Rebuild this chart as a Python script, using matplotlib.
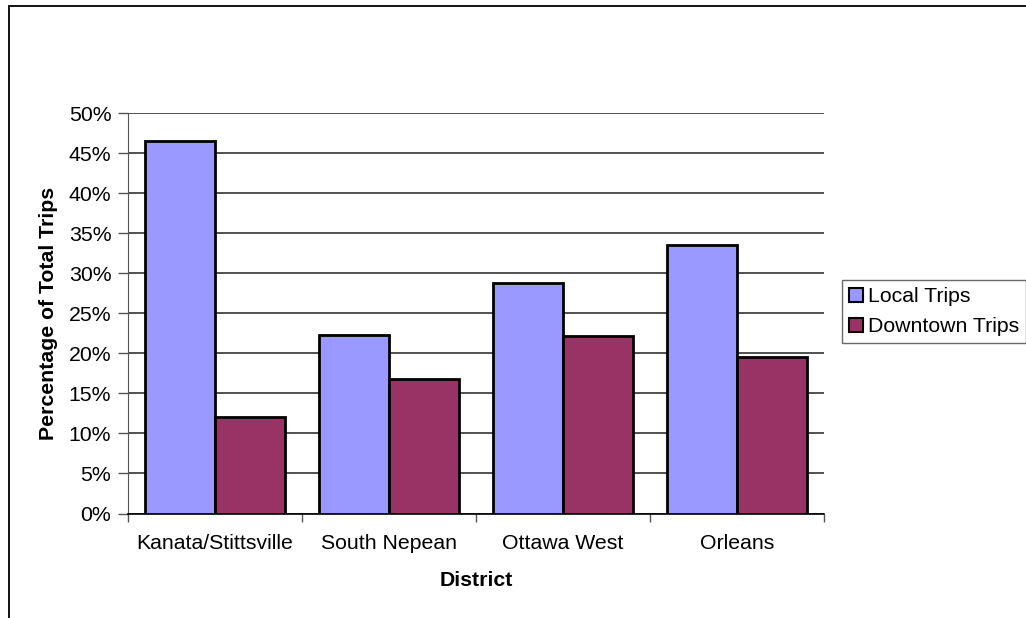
import matplotlib
matplotlib.use("Agg")
import matplotlib.pyplot as plt
from matplotlib.patches import Rectangle
import numpy as np

districts = ["Kanata/Stittsville", "South Nepean", "Ottawa West", "Orleans"]
local_trips = [46.5, 22.35, 28.8, 33.6]
downtown_trips = [12.1, 16.85, 22.2, 19.6]
series_names = ["Local Trips", "Downtown Trips"]
yticks = [0, 5, 10, 15, 20, 25, 30, 35, 40, 45, 50]

plt.rcParams["font.family"] = ["Liberation Sans", "DejaVu Sans"]
FS = 15.3

fig = plt.figure(figsize=(10.26, 6.18), dpi=100)
W, H = 1026, 618
ax = fig.add_axes([128 / W, 1 - 513.5 / H, (824 - 128) / W, (513.5 - 113.3) / H])

# outer chart frame
fig.patches.append(Rectangle((8.5 / W, -0.1), 1.2, 1 - 6.5 / H + 0.1,
                             transform=fig.transFigure, fill=False,
                             edgecolor="black", linewidth=1.3))

x = np.arange(len(districts))
bw = 70 / 174
ax.bar(x - bw / 2, local_trips, bw, color="#9999FF", edgecolor="black",
       linewidth=2, label=series_names[0], zorder=3)
ax.bar(x + bw / 2, downtown_trips, bw, color="#993366", edgecolor="black",
       linewidth=2, label=series_names[1], zorder=3)

ax.set_xlim(-0.5, len(districts) - 0.5)
ax.set_ylim(0, 50)
ax.set_yticks(yticks)
ax.set_yticklabels([f"{v}%" for v in yticks], fontsize=FS)
ax.yaxis.grid(True, color="#222222", linewidth=1.1, zorder=0)
ax.tick_params(axis="y", length=7, width=1, color="#555555", pad=5)

# category boundaries carry the tick marks, labels sit at the centres
ax.set_xticks(np.arange(len(districts) + 1) - 0.5)
ax.set_xticklabels([])
ax.tick_params(axis="x", which="major", length=6, width=1, color="#555555")
ax.set_xticks(x, minor=True)
ax.set_xticklabels(districts, minor=True, fontsize=FS)
ax.tick_params(axis="x", which="minor", length=0, pad=15)

for s in ["top", "right"]:
    ax.spines[s].set_visible(False)
ax.spines["left"].set_color("#555555")
ax.spines["bottom"].set_color("black")
ax.spines["bottom"].set_linewidth(1.2)

ax.set_xlabel("District", fontsize=FS, fontweight="bold", labelpad=13)
ax.set_ylabel("Percentage of Total Trips", fontsize=FS, fontweight="bold", labelpad=8)

leg = ax.legend(loc="upper left", bbox_to_anchor=(842 / W, 1 - 280 / H),
                bbox_transform=fig.transFigure, fontsize=FS, frameon=True,
                fancybox=False, borderpad=0.35, handlelength=0.65,
                handleheight=0.65, handletextpad=0.2, labelspacing=0.5,
                borderaxespad=0)
leg.get_frame().set_edgecolor("#444444")
leg.get_frame().set_linewidth(1)
for h in leg.legend_handles:
    h.set_linewidth(1.5)

fig.savefig("out.png", dpi=100)
